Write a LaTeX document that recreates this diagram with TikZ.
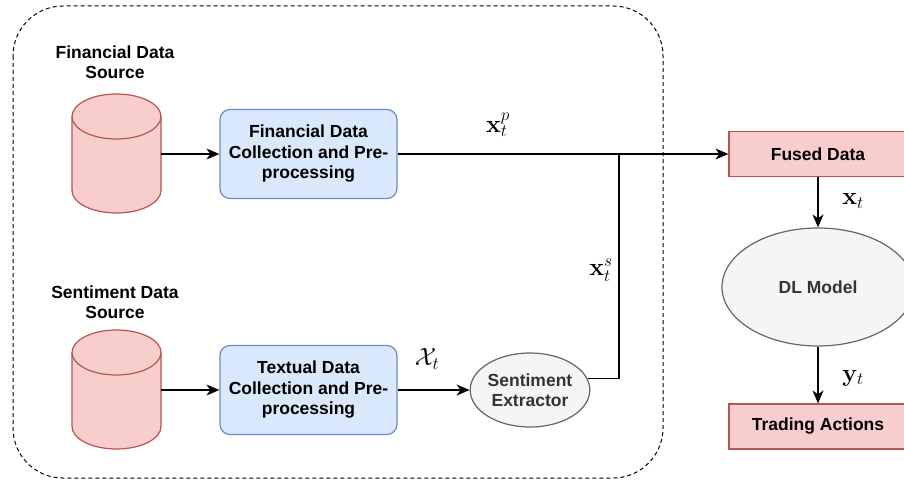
\documentclass[tikz,border=0pt]{standalone}
\usepackage[no-math]{fontspec}
\setmainfont{Liberation Sans}
\usetikzlibrary{arrows.meta,shapes.geometric}
\definecolor{cylfill}{HTML}{F8CECC}
\definecolor{cylline}{HTML}{B85450}
\definecolor{boxfill}{HTML}{DAE8FC}
\definecolor{boxline}{HTML}{6C8EBF}
\definecolor{grayfill}{HTML}{F5F5F5}
\definecolor{grayline}{HTML}{666666}
\definecolor{graytext}{HTML}{333333}
\tikzset{
  lbl/.style={font=\fontsize{17.5}{20.5}\selectfont\bfseries, align=center, inner sep=0pt},
  procbox/.style={draw=boxline, fill=boxfill, line width=1.2pt, rounded corners=10pt,
    minimum width=177pt, minimum height=89pt, inner sep=0pt, align=center,
    font=\fontsize{17.5}{20.5}\selectfont\bfseries},
  redbox/.style={draw=cylline, fill=cylfill, line width=1.2pt,
    minimum width=178pt, minimum height=45pt, inner sep=0pt,
    font=\fontsize{17.5}{20.5}\selectfont\bfseries},
  grayell/.style={ellipse, draw=grayline, fill=grayfill, line width=1.2pt, inner sep=0pt,
    text=graytext, align=center, font=\fontsize{17.5}{20.5}\selectfont\bfseries},
  cylbody/.style={draw=cylline, fill=cylfill, line width=1.2pt},
  ghost/.style={inner sep=0pt, minimum width=89pt, minimum height=119pt},
  conn/.style={line width=1.3pt, -{Stealth[length=13pt,width=11pt,inset=4pt]}},
  plain/.style={line width=1.3pt},
  mlbl/.style={font=\fontsize{23}{26}\selectfont, inner sep=0pt},
}
\begin{document}
\begin{tikzpicture}[x=1pt,y=-1pt]
\clip (0,0) rectangle (904,481);
\fill[white] (0,0) rectangle (904,481);

% dashed container
\draw[line width=1pt, dash pattern=on 4pt off 3pt, rounded corners=50pt] (13,6) rectangle (663,478);

% cylinder 1
\draw[cylbody] (72,116.5) -- (72,190.5) arc[start angle=180,end angle=0,x radius=44.5,y radius=22.5]
  -- (161,116.5) arc[start angle=0,end angle=-180,x radius=44.5,y radius=22.5] -- cycle;
\draw[cylbody, fill=none] (72,116.5) arc[start angle=180,end angle=0,x radius=44.5,y radius=22.5];
\node[ghost] (cyl1) at (116.5,154) {};

% cylinder 2
\draw[cylbody] (72,352.5) -- (72,426.5) arc[start angle=180,end angle=0,x radius=44.5,y radius=22.5]
  -- (161,352.5) arc[start angle=0,end angle=-180,x radius=44.5,y radius=22.5] -- cycle;
\draw[cylbody, fill=none] (72,352.5) arc[start angle=180,end angle=0,x radius=44.5,y radius=22.5];
\node[ghost] (cyl2) at (116.5,390) {};

% labels
\node[lbl] (fsrc) at (115,62) {Financial Data\\Source};
\node[lbl] (ssrc) at (115,302) {Sentiment Data\\Source};

% process boxes
\node[procbox] (fin) at (308.5,154) {Financial Data\\Collection and Pre-\\processing};
\node[procbox] (txt) at (308.5,390) {Textual Data\\Collection and Pre-\\processing};

% sentiment extractor
\node[grayell, minimum width=118pt, minimum height=74pt] (se) at (530,390) {Sentiment\\Extractor};

% right column
\node[redbox] (fused) at (818,154) {Fused Data};
\node[grayell, minimum width=192pt, minimum height=118pt] (dl) at (818,287) {DL Model};
\node[redbox] (trade) at (818,426.5) {Trading Actions};

\coordinate (j) at (619,154);

% connectors
\draw[conn] (cyl1.east) -- (fin.west);
\draw[conn] (cyl2.east) -- (txt.west);
\draw[conn] (fin.east) -- (fused.west);
\draw[conn] (txt.east) -- (se.west);
\draw[plain] (se.11) -| (j);
\draw[conn] (fused.south) -- (dl.north);
\draw[conn] (dl.south) -- (trade.north);

% math labels
\node[mlbl] (lp) at (498,125) {$\mathbf{x}_t^p$};
\node[mlbl] (ls) at (601,270) {$\mathbf{x}_t^s$};
\node[mlbl] (lx) at (427,359) {$\mathcal{X}_t$};
\node[mlbl] (lxt) at (853,201) {$\mathbf{x}_t$};
\node[mlbl] (lyt) at (853,378) {$\mathbf{y}_t$};
\end{tikzpicture}
\end{document}
